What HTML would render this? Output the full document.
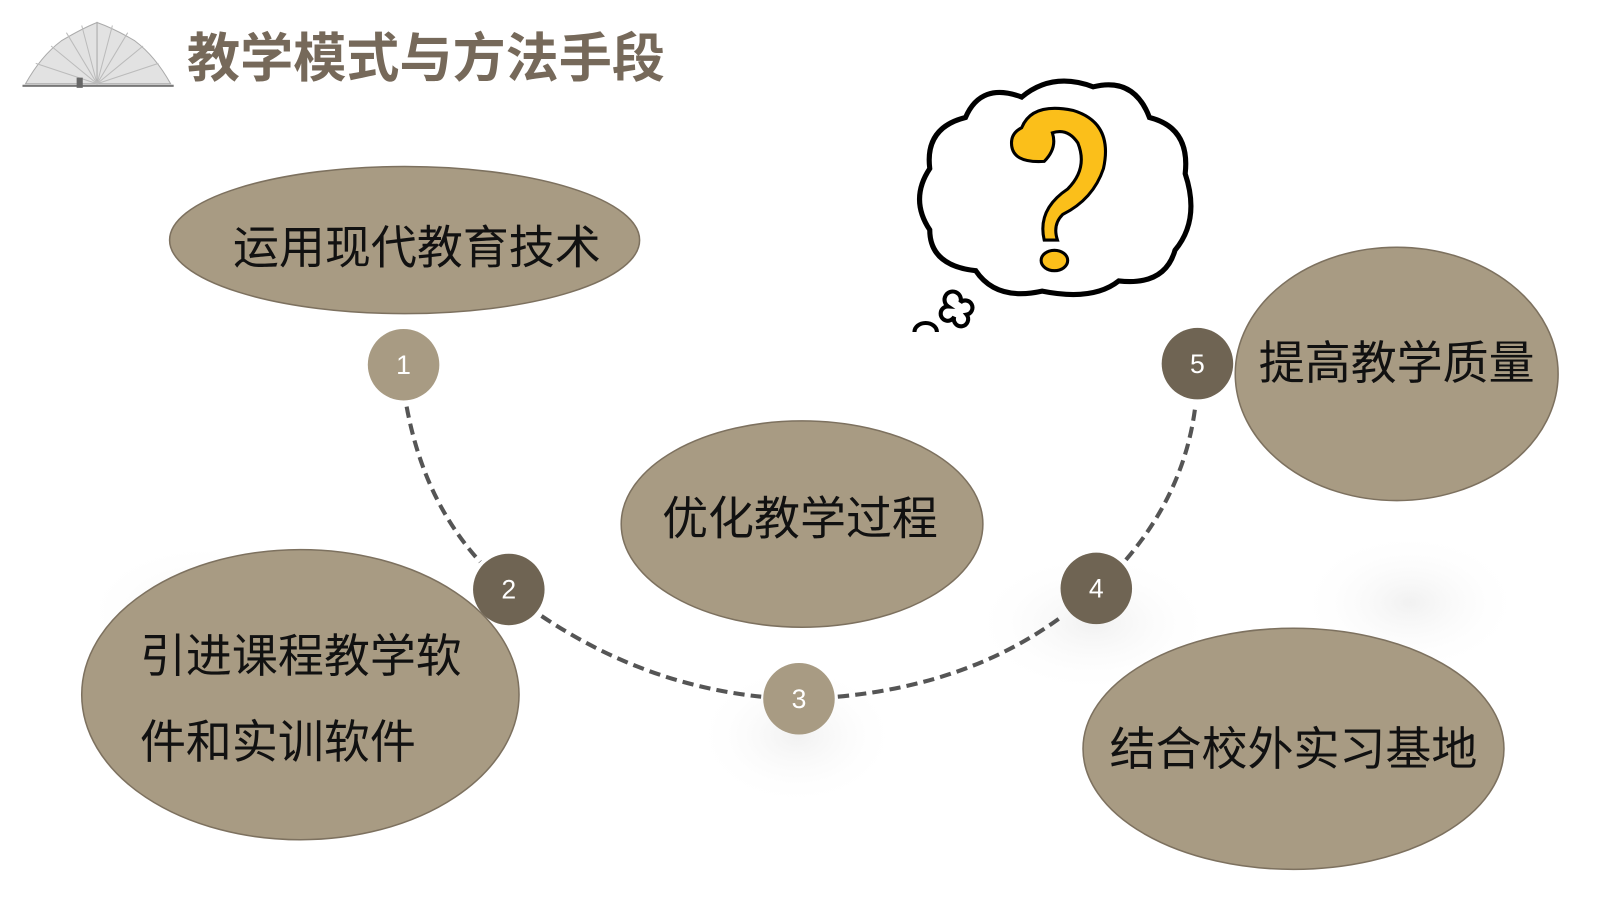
<!DOCTYPE html>
<html><head><meta charset="utf-8"><style>
body{margin:0;width:1600px;height:900px;background:#fff;overflow:hidden;font-family:"Liberation Sans","Noto Sans CJK SC",sans-serif}
</style></head><body>
<svg width="1600" height="900" viewBox="0 0 1566 881" preserveAspectRatio="none" xmlns="http://www.w3.org/2000/svg" style="position:absolute;left:0;top:0">
<defs>
<radialGradient id="gh"><stop offset="0" stop-color="#f1f1f1"/><stop offset="1" stop-color="#fff" stop-opacity="0"/></radialGradient>
</defs>
<ellipse cx="200" cy="600" rx="120" ry="70" fill="url(#gh)"/>
<ellipse cx="780" cy="720" rx="100" ry="70" fill="url(#gh)"/>
<ellipse cx="1070" cy="610" rx="120" ry="70" fill="url(#gh)"/>
<ellipse cx="1380" cy="590" rx="110" ry="70" fill="url(#gh)"/>
<g stroke="#aaa" stroke-width="1" fill="#e2e2e2">
<path d="M25 82 Q40 55 60 40 Q80 28 95 22 L95 82 Z"/>
<path d="M167 82 Q152 55 132 40 Q112 28 95 22 L95 82 Z"/>
<path d="M95 82 L50 45 M95 82 L65 32 M95 82 L80 25 M95 82 L110 25 M95 82 L125 32 M95 82 L140 45 M95 82 L35 62 M95 82 L155 62" stroke="#bbb"/>
<line x1="22" y1="84" x2="170" y2="84" stroke="#777" stroke-width="2"/>
<rect x="75" y="76" width="6" height="10" fill="#666" stroke="none"/>
</g>
<text x="183" y="75" font-size="52" font-weight="bold" fill="#76695a">教学模式与方法手段</text>
<path d="M945 115 Q960 80 1000 95 Q1030 70 1070 85 Q1110 75 1125 115 Q1165 125 1160 170 Q1175 215 1150 245 Q1140 280 1095 275 Q1070 295 1020 285 Q975 295 955 265 Q910 260 910 225 Q890 195 910 165 Q905 125 945 115 Z" fill="#fff" stroke="#000" stroke-width="5"/>
<path d="M928 300 a8 8 0 1 1 12 -4 a7 7 0 1 1 6 12 a7 7 0 1 1 -12 2 a7 7 0 1 1 -6 -10z" fill="#fff" stroke="#000" stroke-width="4"/>
<path d="M895 325 a10 8 0 0 1 22 0" fill="none" stroke="#000" stroke-width="4"/>
<path d="M1000 125 Q1010 100 1050 108 Q1090 120 1080 165 Q1070 195 1040 210 Q1030 220 1035 235 L1022 235 Q1015 205 1045 185 Q1065 165 1055 140 Q1045 125 1030 130 Q1035 145 1022 158 Q990 160 990 140 Q990 130 1000 125 Z" fill="#fbbf1a" stroke="#000" stroke-width="3"/>
<ellipse cx="1032" cy="255" rx="13" ry="10" fill="#fbbf1a" stroke="#000" stroke-width="3"/>
<g fill="none" stroke="#555" stroke-width="4" stroke-dasharray="11 6">
<path d="M398 398 Q415 490 470 550"/>
<path d="M530 603 Q630 670 745 682"/>
<path d="M820 682 Q950 670 1040 603"/>
<path d="M1102 548 Q1160 480 1170 397"/>
</g>
<g fill="#a89b83" stroke="#7d715f" stroke-width="1.5">
<ellipse cx="396" cy="235" rx="230" ry="72"/>
<ellipse cx="1367" cy="366" rx="158" ry="124"/>
<ellipse cx="785" cy="513" rx="177" ry="101"/>
<ellipse cx="294" cy="680" rx="214" ry="142"/>
<ellipse cx="1266" cy="733" rx="206" ry="118"/>
</g>
<g font-size="45" fill="#111">
<text x="228" y="258">运用现代教育技术</text>
<text x="1232" y="371">提高教学质量</text>
<text x="648" y="523">优化教学过程</text>
<text x="137" y="658">引进课程教学软</text>
<text x="137" y="742">件和实训软件</text>
<text x="1086" y="749">结合校外实习基地</text>
</g>
<circle cx="395" cy="357" r="35" fill="#a89b83"/>
<circle cx="498" cy="577" r="35" fill="#6f6453"/>
<circle cx="782" cy="684" r="35" fill="#a89b83"/>
<circle cx="1073" cy="576" r="35" fill="#6f6453"/>
<circle cx="1172" cy="356" r="35" fill="#6f6453"/>
<g font-size="26" fill="#fff" text-anchor="middle">
<text x="395" y="366">1</text>
<text x="498" y="586">2</text>
<text x="782" y="693">3</text>
<text x="1073" y="585">4</text>
<text x="1172" y="365">5</text>
</g>
</svg>
</body></html>
